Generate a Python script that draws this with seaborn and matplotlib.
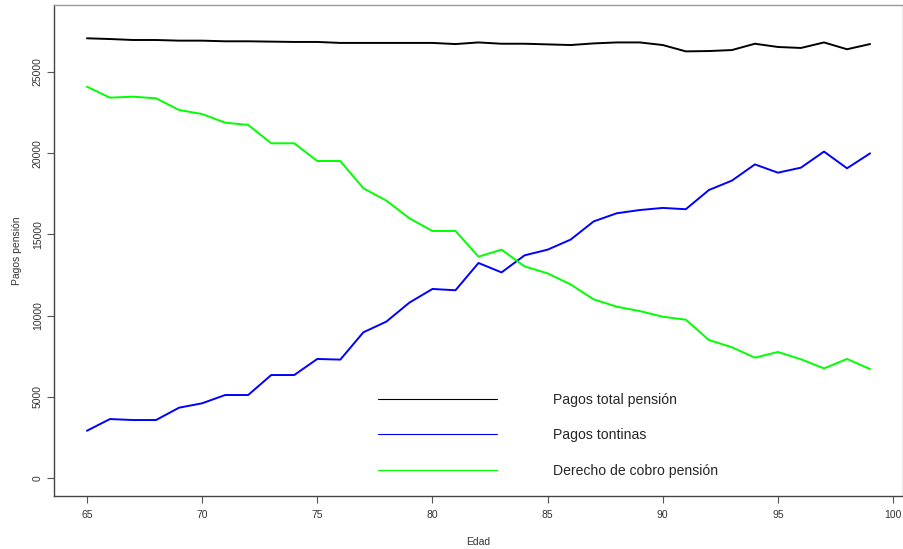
import matplotlib
matplotlib.use("Agg")
import matplotlib.pyplot as plt
import seaborn as sns
import pandas as pd
import numpy as np

edad = list(range(65, 100))
pagos_total = [27075, 27030, 26970, 26970, 26930, 26930, 26890, 26890, 26870, 26850,
               26850, 26790, 26790, 26790, 26790, 26790, 26720, 26820, 26740, 26740,
               26700, 26660, 26760, 26820, 26820, 26660, 26270, 26290, 26350, 26740,
               26540, 26480, 26820, 26400, 26720]
pagos_tontinas = [2910, 3630, 3570, 3570, 4330, 4600, 5110, 5110, 6340, 6340,
                  7330, 7290, 8970, 9630, 10800, 11640, 11560, 13240, 12660, 13710,
                  14060, 14680, 15800, 16300, 16500, 16630, 16550, 17730, 18310, 19310,
                  18800, 19110, 20100, 19070, 19990]
derecho_cobro = [24095, 23420, 23480, 23380, 22660, 22410, 21880, 21740, 20610, 20610,
                 19520, 19520, 17840, 17080, 15990, 15210, 15210, 13630, 14060, 13030,
                 12600, 11920, 11000, 10550, 10280, 9930, 9750, 8500, 8050, 7410,
                 7760, 7310, 6750, 7330, 6710]
series_names = ["Pagos total pensión", "Pagos tontinas", "Derecho de cobro pensión"]
series_colors = ["#000000", "#0000FF", "#00FF00"]
x_ticks = [65, 70, 75, 80, 85, 90, 95, 100]
y_ticks = [0, 5000, 10000, 15000, 20000, 25000]

df = pd.DataFrame({
    "Edad": edad * 3,
    "valor": pagos_total + pagos_tontinas + derecho_cobro,
    "serie": [series_names[0]] * len(edad) + [series_names[1]] * len(edad) + [series_names[2]] * len(edad),
})

sns.set_theme(style="white")
plt.rcParams["font.family"] = ["Liberation Sans", "DejaVu Sans"]

fig = plt.figure(figsize=(9.04, 5.49), dpi=100)
ax = fig.add_axes([54/904, 1-496/549, (903-54)/904, (496-5)/549])

sns.lineplot(data=df, x="Edad", y="valor", hue="serie", hue_order=series_names,
             palette=dict(zip(series_names, series_colors)), linewidth=1.4, ax=ax,
             estimator=None, sort=False)

ax.set_xlim(63.57, 100.43)
ax.set_ylim(-1108, 29125)
ax.set_xticks(x_ticks)
ax.set_yticks(y_ticks)
ax.set_xticklabels([str(t) for t in x_ticks], fontsize=7.5, color="#333333")
ax.set_yticklabels([str(t) for t in y_ticks], fontsize=7.5, color="#333333",
                   rotation=90, va="center")
ax.tick_params(axis="both", which="both", length=5, width=0.8, color="#555555",
               direction="out", bottom=True, left=True, pad=5)
ax.tick_params(axis="y", pad=3)
ax.set_xlabel("Edad", fontsize=7.5, color="#333333", labelpad=12)
ax.set_ylabel("Pagos pensión", fontsize=7.5, color="#333333", labelpad=8)
for side, sp in ax.spines.items():
    sp.set_color("#999999" if side in ("top", "right") else "#444444")
    sp.set_linewidth(1.0)

leg = ax.legend(loc="upper left", bbox_to_anchor=((365-54)/849, (496-380)/491),
                frameon=False, handlelength=8.5, handletextpad=4.0,
                labelspacing=1.53,
                prop={"family": ["Liberation Sans", "DejaVu Sans"], "size": 10.1})
for line in leg.get_lines():
    line.set_linewidth(0.8)

fig.savefig("out.png", dpi=100)
